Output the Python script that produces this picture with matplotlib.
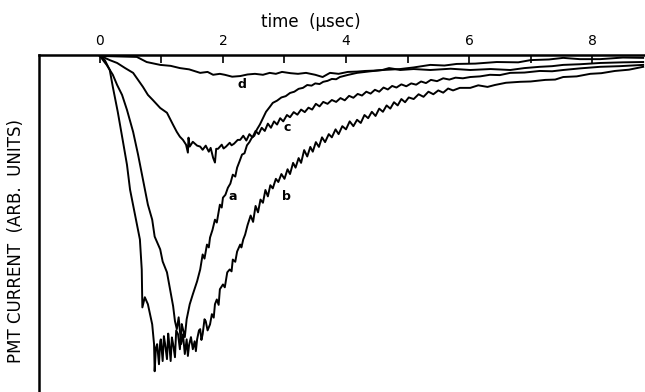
import matplotlib
matplotlib.use("Agg")
import matplotlib.pyplot as plt

# PMT current traces a-d: (time in usec, current in arb. units, negative = down)
trace_a = [(0, 0), (0.08, -1.3), (0.16, -4.4), (0.21, -9.7), (0.29, -17.5), (0.37, -26.3), (0.44, -34.1),
           (0.49, -41.9), (0.57, -49.7), (0.65, -57.5), (0.68, -66.9), (0.69, -78.8), (0.73, -75.6),
           (0.78, -77.8), (0.85, -84.1), (0.88, -90.3), (0.89, -98.8), (0.91, -91.5), (0.93, -90.3),
           (0.96, -96.6), (0.98, -89.5), (0.99, -88.8), (1.02, -95.6), (1.04, -87.8), (1.06, -90.3),
           (1.09, -95.0), (1.11, -87.0), (1.12, -88.8), (1.15, -95.6), (1.17, -88.2), (1.19, -90.3),
           (1.22, -94.4), (1.24, -86.0), (1.27, -87.2), (1.30, -91.9), (1.33, -84.0), (1.35, -85.6),
           (1.38, -88.1), (1.41, -82.5), (1.46, -77.8), (1.51, -74.7), (1.58, -70.6), (1.63, -66.9),
           (1.67, -62.2), (1.70, -63.5), (1.74, -59.1), (1.77, -60.0), (1.79, -56.9), (1.83, -54.5),
           (1.87, -51.3), (1.90, -52.2), (1.95, -46.6), (1.98, -47.5), (2.00, -44.4), (2.04, -43.5),
           (2.08, -41.3), (2.12, -40.0), (2.16, -37.2), (2.20, -37.8), (2.23, -35.0), (2.27, -33.0),
           (2.31, -30.9), (2.35, -30.5), (2.39, -28.0), (2.43, -27.0), (2.47, -25.6), (2.51, -25.0),
           (2.55, -23.1), (2.60, -21.5), (2.65, -19.5), (2.70, -17.5), (2.76, -16.0), (2.81, -14.7),
           (2.88, -14.0), (2.95, -13.0), (3.02, -12.6), (3.09, -11.6), (3.16, -11.2), (3.23, -10.3),
           (3.30, -10.0), (3.37, -9.1), (3.44, -9.3), (3.50, -8.6), (3.57, -8.8), (3.63, -8.1),
           (3.70, -7.8), (3.77, -7.2), (3.84, -7.3), (3.90, -6.6), (4.04, -5.9), (4.18, -5.3),
           (4.40, -4.8), (4.60, -4.4), (4.88, -4.1), (5.10, -3.6), (5.37, -2.8), (5.60, -3.0),
           (5.80, -2.5), (6.10, -2.4), (6.45, -1.9), (6.80, -2.0), (7.00, -1.3), (7.30, -1.1),
           (7.53, -0.6), (7.80, -1.0), (8.13, -1.0), (8.50, -0.5), (8.83, -0.6)]

trace_b = [(0, 0), (0.05, -1.3), (0.11, -2.8), (0.21, -5.9), (0.28, -9.1), (0.36, -12.2), (0.44, -16.9),
           (0.54, -23.8), (0.62, -30.9), (0.70, -38.8), (0.78, -46.6), (0.85, -51.3), (0.89, -56.6),
           (0.98, -60.6), (1.02, -64.4), (1.09, -67.8), (1.14, -73.1), (1.19, -78.4), (1.22, -83.1),
           (1.25, -85.6), (1.28, -81.9), (1.32, -90.3), (1.35, -87.2), (1.38, -93.4), (1.41, -88.8),
           (1.43, -94.0), (1.45, -90.5), (1.48, -88.1), (1.51, -91.9), (1.54, -89.4), (1.56, -92.5),
           (1.58, -88.8), (1.61, -86.0), (1.63, -85.6), (1.65, -89.0), (1.67, -87.2), (1.70, -82.5),
           (1.72, -83.1), (1.75, -86.0), (1.79, -84.1), (1.82, -80.9), (1.85, -82.0), (1.87, -77.8),
           (1.90, -76.3), (1.93, -78.0), (1.95, -73.1), (2.00, -71.6), (2.03, -72.5), (2.07, -67.8),
           (2.11, -66.9), (2.14, -67.5), (2.16, -63.8), (2.20, -64.5), (2.23, -61.3), (2.28, -59.1),
           (2.30, -60.0), (2.33, -57.5), (2.36, -56.0), (2.40, -53.0), (2.45, -50.0), (2.49, -52.0),
           (2.53, -47.0), (2.57, -49.0), (2.61, -45.0), (2.65, -46.0), (2.69, -42.0), (2.73, -44.0),
           (2.77, -40.5), (2.81, -41.5), (2.86, -38.5), (2.90, -39.5), (2.95, -37.0), (3.00, -38.5),
           (3.05, -35.5), (3.09, -37.0), (3.14, -33.5), (3.18, -35.0), (3.23, -32.0), (3.27, -33.5),
           (3.32, -29.5), (3.37, -31.5), (3.42, -28.5), (3.46, -30.0), (3.51, -27.0), (3.56, -28.5),
           (3.61, -25.5), (3.66, -27.0), (3.72, -24.5), (3.77, -25.5), (3.83, -23.0), (3.88, -24.5),
           (3.94, -22.0), (4.00, -23.0), (4.06, -20.5), (4.12, -22.0), (4.18, -20.0), (4.24, -21.0),
           (4.30, -18.5), (4.36, -19.5), (4.42, -17.5), (4.48, -18.8), (4.54, -16.5), (4.60, -17.5),
           (4.66, -15.5), (4.72, -16.5), (4.78, -14.5), (4.84, -15.5), (4.90, -13.5), (4.96, -14.5),
           (5.02, -13.0), (5.10, -13.5), (5.18, -12.0), (5.26, -12.8), (5.34, -11.2), (5.42, -12.0),
           (5.50, -10.8), (5.58, -11.5), (5.66, -10.2), (5.74, -10.8), (5.85, -10.0), (6.02, -10.0),
           (6.15, -9.2), (6.30, -9.7), (6.42, -9.1), (6.60, -8.4), (6.83, -8.1), (7.00, -8.0),
           (7.24, -7.5), (7.40, -7.4), (7.53, -6.6), (7.75, -6.4), (7.97, -5.6), (8.15, -5.4),
           (8.37, -4.7), (8.60, -4.3), (8.83, -3.4)]

trace_c = [(0, 0), (0.08, -0.6), (0.16, -1.3), (0.28, -2.2), (0.41, -3.8), (0.54, -5.3), (0.62, -7.5),
           (0.70, -9.7), (0.78, -12.2), (0.86, -13.8), (0.98, -16.3), (1.09, -17.8), (1.19, -21.6),
           (1.25, -23.8), (1.30, -25.3), (1.35, -26.3), (1.40, -27.8), (1.43, -30.3), (1.44, -25.6),
           (1.46, -28.4), (1.51, -26.9), (1.58, -28.1), (1.63, -28.4), (1.67, -29.4), (1.72, -28.1),
           (1.77, -30.0), (1.80, -28.8), (1.84, -31.9), (1.87, -33.4), (1.89, -29.1), (1.92, -29.1),
           (1.98, -27.8), (2.01, -29.0), (2.05, -28.4), (2.11, -27.2), (2.14, -28.0), (2.18, -27.5),
           (2.24, -26.3), (2.28, -26.3), (2.33, -25.0), (2.38, -26.5), (2.43, -24.5), (2.48, -25.5),
           (2.53, -23.5), (2.58, -24.5), (2.63, -22.5), (2.68, -23.5), (2.73, -21.2), (2.78, -22.5),
           (2.83, -20.5), (2.88, -21.5), (2.93, -19.5), (2.98, -20.5), (3.04, -18.5), (3.09, -19.2),
           (3.15, -17.6), (3.21, -18.4), (3.27, -16.8), (3.33, -17.6), (3.39, -16.2), (3.45, -16.8),
           (3.51, -15.0), (3.57, -15.8), (3.63, -14.4), (3.70, -15.0), (3.77, -13.8), (3.84, -14.4),
           (3.91, -13.2), (3.98, -13.9), (4.05, -12.5), (4.12, -13.1), (4.19, -11.9), (4.26, -12.4),
           (4.33, -11.2), (4.40, -11.8), (4.47, -10.6), (4.54, -11.2), (4.61, -9.9), (4.68, -10.5),
           (4.75, -9.4), (4.82, -9.9), (4.90, -8.9), (4.98, -9.5), (5.06, -8.6), (5.14, -9.0),
           (5.22, -8.0), (5.30, -8.5), (5.38, -7.5), (5.48, -7.9), (5.58, -7.0), (5.68, -7.4),
           (5.78, -6.8), (5.90, -7.0), (6.02, -6.6), (6.18, -6.4), (6.34, -5.9), (6.50, -6.0),
           (6.67, -5.3), (6.90, -5.2), (7.15, -4.7), (7.35, -4.8), (7.53, -4.4), (7.80, -3.9),
           (8.13, -3.4), (8.45, -3.2), (8.83, -2.8)]

trace_d = [(0, 0), (0.60, -0.3), (0.70, -1.3), (0.76, -1.9), (0.98, -2.8), (1.15, -3.1), (1.30, -3.8),
           (1.45, -4.2), (1.63, -5.3), (1.75, -5.0), (1.84, -5.9), (1.95, -5.6), (2.03, -5.9),
           (2.15, -6.5), (2.28, -6.3), (2.40, -5.8), (2.52, -5.6), (2.65, -5.9), (2.76, -5.3),
           (2.86, -5.6), (2.96, -5.0), (3.10, -5.4), (3.22, -5.6), (3.35, -5.3), (3.50, -5.9),
           (3.62, -6.6), (3.74, -5.3), (3.88, -5.6), (4.03, -5.0), (4.18, -4.9), (4.31, -4.7),
           (4.45, -4.6), (4.59, -4.4), (4.70, -3.8), (4.80, -4.1), (4.88, -4.4), (5.10, -4.1),
           (5.37, -4.4), (5.70, -4.0), (6.02, -4.4), (6.35, -4.1), (6.67, -4.4), (6.90, -3.8),
           (7.15, -3.4), (7.35, -3.2), (7.53, -2.8), (7.80, -2.6), (8.13, -2.2), (8.50, -2.0),
           (8.83, -1.9)]

curve_names = ['a', 'b', 'c', 'd']
label_t = [2.16, 3.04, 3.04, 2.31]
label_i = [-44.1, -44.1, -22.5, -9.1]

major_ticks = [0, 2, 4, 6, 8]
minor_ticks = [1, 3, 5, 7]

fig = plt.figure(figsize=(6.45, 3.92), dpi=100)
ax = fig.add_axes([39 / 645, 0, 606 / 645, 1 - 55 / 392])

for trace in [trace_a, trace_b, trace_c, trace_d]:
    tt, ii = zip(*trace)
    ax.plot(tt, ii, color='black', lw=1.4)

for name, x, y in zip(curve_names, label_t, label_i):
    ax.text(x, y, name, fontsize=9, fontweight='bold', ha='center', va='center')

ax.set_xlim(-0.99, 8.86)
ax.set_ylim(-105.3, 0.3)
ax.xaxis.tick_top()
ax.set_xticks(major_ticks)
ax.set_xticks(minor_ticks, minor=True)
ax.tick_params(axis='x', which='both', direction='in', length=6, width=1.2, pad=5, labelsize=10)
ax.set_yticks([])
ax.spines['bottom'].set_visible(False)
ax.spines['right'].set_visible(False)
ax.spines['top'].set_linewidth(1.8)
ax.spines['left'].set_linewidth(1.8)

fig.text(311 / 645, 1 - 22 / 392, 'time  (\u03bcsec)', ha='center', va='center', fontsize=12)
fig.text(16 / 645, 1 - 241 / 392, 'PMT CURRENT  (ARB.  UNITS)', rotation=90,
         ha='center', va='center', fontsize=12)

fig.savefig('out.png', dpi=100)
